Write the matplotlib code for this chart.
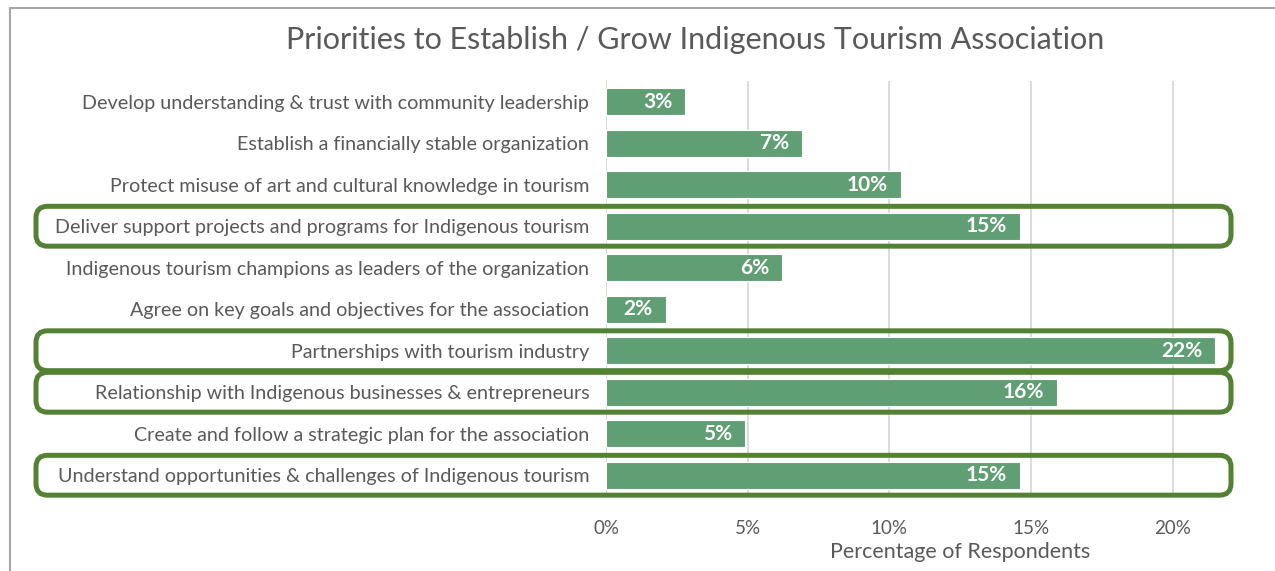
import matplotlib
matplotlib.use("Agg")
from matplotlib import pyplot as plt
from matplotlib.patches import FancyBboxPatch
from matplotlib.lines import Line2D
from matplotlib.ticker import FuncFormatter

plt.rcParams["font.family"] = ["Lato", "DejaVu Sans"]

TITLE = "Priorities to Establish / Grow Indigenous Tourism Association"
X_LABEL = "Percentage of Respondents"

priorities = [
    "Develop understanding & trust with community leadership",
    "Establish a financially stable organization",
    "Protect misuse of art and cultural knowledge in tourism",
    "Deliver support projects and programs for Indigenous tourism",
    "Indigenous tourism champions as leaders of the organization",
    "Agree on key goals and objectives for the association",
    "Partnerships with tourism industry",
    "Relationship with Indigenous businesses & entrepreneurs",
    "Create and follow a strategic plan for the association",
    "Understand opportunities & challenges of Indigenous tourism",
]
percent = [2.8, 6.9, 10.4, 14.6, 6.2, 2.1, 21.5, 15.9, 4.9, 14.6]
value_labels = ["3%", "7%", "10%", "15%", "6%", "2%", "22%", "16%", "5%", "15%"]
highlighted = [3, 6, 7, 9]

W, H = 1275, 571
GREY = "#595959"
BAR = "#609E74"
BOX = "#548235"

fig = plt.figure(figsize=(W / 100, H / 100), dpi=100)
ax = fig.add_axes([606 / W, 1 - 496 / H, (1218 - 606) / W, (496 - 81) / H])

y = list(range(len(priorities)))
bars = ax.barh(y, percent, height=0.66, color=BAR, edgecolor="white", linewidth=0.8, zorder=3)
ax.set_ylim(len(priorities) - 0.5, -0.5)
ax.set_xlim(0, 21.6)

ax.set_yticks(y)
ax.set_yticklabels(priorities, fontsize=14.2, color=GREY)
ax.tick_params(axis="y", length=0, pad=12)
ax.set_xticks([0, 5, 10, 15, 20])
ax.xaxis.set_major_formatter(FuncFormatter(lambda v, _: f"{v:.0f}%"))
ax.tick_params(axis="x", length=0, labelsize=13.5, labelcolor=GREY, pad=17)
ax.grid(axis="x", color="#D9D9D9", linewidth=1.3, zorder=0)
for s in ax.spines.values():
    s.set_visible(False)

ax.set_xlabel(X_LABEL, fontsize=15.5, color=GREY)
ax.xaxis.set_label_coords((960 - 606) / (1218 - 606), -0.11)

for bar, v, lab in zip(bars, percent, value_labels):
    ax.text(v - 0.45, bar.get_y() + bar.get_height() / 2, lab,
            ha="right", va="center", color="white", fontsize=15,
            fontweight="bold", zorder=4)

fig.text(695 / W, 1 - 40 / H, TITLE, ha="center", va="center", fontsize=22, color=GREY)

# highlight boxes around selected rows
fig.canvas.draw()
to_fig = fig.transFigure.inverted()
for i in highlighted:
    _, top = to_fig.transform(ax.transData.transform((0, i - 0.48)))
    _, bot = to_fig.transform(ax.transData.transform((0, i + 0.48)))
    x0 = 36 / W
    x1 = 1231 / W
    box = FancyBboxPatch((x0, bot), x1 - x0, top - bot,
                         boxstyle="round,pad=0,rounding_size=0.009",
                         mutation_aspect=W / H,
                         transform=fig.transFigure, fill=False,
                         edgecolor=BOX, linewidth=3.6, zorder=5)
    fig.add_artist(box)

# chart frame edges
fig.add_artist(Line2D([10 / W, 1], [1 - 8 / H, 1 - 8 / H], transform=fig.transFigure, color="#A6A6A6", linewidth=1.5))
fig.add_artist(Line2D([10 / W, 10 / W], [0, 1 - 8 / H], transform=fig.transFigure, color="#A6A6A6", linewidth=1.5))

fig.savefig("out.png", dpi=100)
